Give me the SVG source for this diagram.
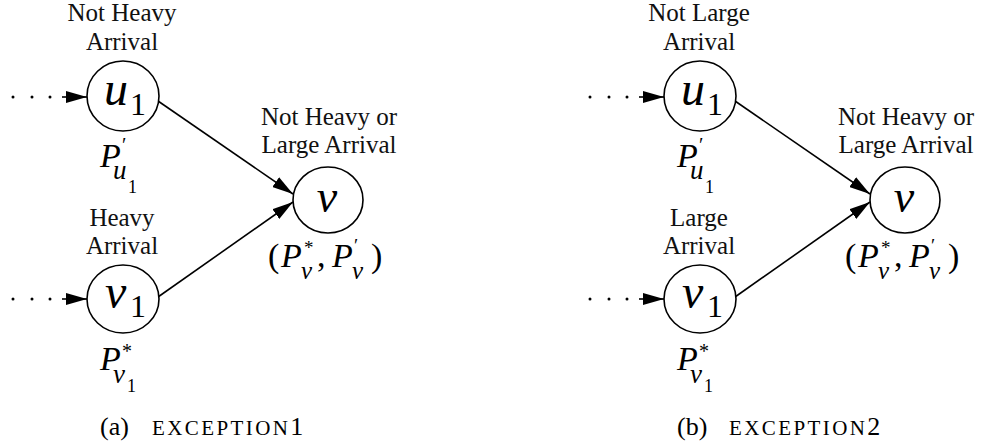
<svg xmlns="http://www.w3.org/2000/svg" width="985" height="448" viewBox="0 0 985 448">
<defs>
<marker id="ah" markerUnits="userSpaceOnUse" markerWidth="22" markerHeight="12" refX="21" refY="6" orient="auto">
<path d="M0,0 L21,6 L0,12 z" fill="#000"/>
</marker>
<style>
.nd{fill:#fff;stroke:#000;stroke-width:1.6}
.lb{font-family:'Liberation Serif','DejaVu Serif',serif;font-size:25px;fill:#111;text-anchor:middle}
.m{font-family:'Liberation Serif','DejaVu Serif',serif;font-style:italic;fill:#000}
.d{font-family:'Liberation Serif','DejaVu Serif',serif;font-style:normal;fill:#000}
.e{stroke:#000;stroke-width:1.6;fill:none}
.dot{fill:#000}
.cap{font-family:'Liberation Serif','DejaVu Serif',serif;font-size:26px;fill:#000}
</style>
</defs>
<rect width="985" height="448" fill="#fff"/>

<g id="connectors">
<g id="conn-a">
<circle class="dot" cx="13" cy="97" r="1.5"/><circle class="dot" cx="32" cy="97" r="1.5"/><circle class="dot" cx="50" cy="97" r="1.5"/>
<line class="e" x1="62" y1="97" x2="87" y2="97" marker-end="url(#ah)"/>
<circle class="dot" cx="13" cy="299" r="1.5"/><circle class="dot" cx="32" cy="299" r="1.5"/><circle class="dot" cx="50" cy="299" r="1.5"/>
<line class="e" x1="62" y1="299" x2="87" y2="299" marker-end="url(#ah)"/>
<line class="e" x1="158" y1="101" x2="293" y2="194" marker-end="url(#ah)"/>
<line class="e" x1="158" y1="297" x2="293" y2="202" marker-end="url(#ah)"/>
</g>
<g id="conn-b" transform="translate(577,0)">
<circle class="dot" cx="13" cy="97" r="1.5"/><circle class="dot" cx="32" cy="97" r="1.5"/><circle class="dot" cx="50" cy="97" r="1.5"/>
<line class="e" x1="62" y1="97" x2="87" y2="97" marker-end="url(#ah)"/>
<circle class="dot" cx="13" cy="299" r="1.5"/><circle class="dot" cx="32" cy="299" r="1.5"/><circle class="dot" cx="50" cy="299" r="1.5"/>
<line class="e" x1="62" y1="299" x2="87" y2="299" marker-end="url(#ah)"/>
<line class="e" x1="158" y1="101" x2="293" y2="194" marker-end="url(#ah)"/>
<line class="e" x1="158" y1="297" x2="293" y2="202" marker-end="url(#ah)"/>
</g>
</g>

<g id="a-u1">
<text class="lb" x="122" y="21">Not Heavy</text>
<text class="lb" x="122" y="50">Arrival</text>
<ellipse class="nd" cx="123" cy="96" rx="36" ry="35"/>
<text class="m" x="104" y="105" font-size="48">u</text>
<text class="d" x="130" y="115" font-size="32">1</text>
<text class="m" x="100" y="167" font-size="34">P</text>
<text class="d" x="122" y="152" font-size="20">′</text>
<text class="m" x="113" y="179" font-size="27">u</text>
<text class="d" x="128" y="193" font-size="18">1</text>
</g>

<g id="a-v1">
<text class="lb" x="122" y="226">Heavy</text>
<text class="lb" x="122" y="254">Arrival</text>
<ellipse class="nd" cx="123" cy="299" rx="36" ry="34"/>
<text class="m" x="105" y="308" font-size="48">v</text>
<text class="d" x="130" y="317" font-size="32">1</text>
<text class="m" x="100" y="370" font-size="34">P</text>
<text class="d" x="122" y="358" font-size="20">*</text>
<text class="m" x="113" y="383" font-size="27">v</text>
<text class="d" x="127" y="392" font-size="18">1</text>
</g>

<g id="a-v">
<text class="lb" x="329" y="125">Not Heavy or</text>
<text class="lb" x="329" y="153">Large Arrival</text>
<ellipse class="nd" cx="328" cy="200" rx="35" ry="33"/>
<text class="m" x="327" y="212" font-size="46" text-anchor="middle">v</text>
<text class="d" x="268" y="267" font-size="34">(</text>
<text class="m" x="281" y="267" font-size="34">P</text>
<text class="d" x="304" y="254" font-size="19">*</text>
<text class="m" x="301" y="279" font-size="25">v</text>
<text class="d" x="317" y="267" font-size="34">,</text>
<text class="m" x="332" y="267" font-size="34">P</text>
<text class="d" x="354" y="252" font-size="19">′</text>
<text class="m" x="352" y="279" font-size="25">v</text>
<text class="d" x="371" y="267" font-size="34">)</text>
</g>

<g id="b-u1" transform="translate(577,0)">
<text class="lb" x="122" y="21">Not Large</text>
<text class="lb" x="122" y="50">Arrival</text>
<ellipse class="nd" cx="123" cy="96" rx="36" ry="35"/>
<text class="m" x="104" y="105" font-size="48">u</text>
<text class="d" x="130" y="115" font-size="32">1</text>
<text class="m" x="100" y="167" font-size="34">P</text>
<text class="d" x="122" y="152" font-size="20">′</text>
<text class="m" x="113" y="179" font-size="27">u</text>
<text class="d" x="128" y="193" font-size="18">1</text>
</g>

<g id="b-v1" transform="translate(577,0)">
<text class="lb" x="122" y="226">Large</text>
<text class="lb" x="122" y="254">Arrival</text>
<ellipse class="nd" cx="123" cy="299" rx="36" ry="34"/>
<text class="m" x="105" y="308" font-size="48">v</text>
<text class="d" x="130" y="317" font-size="32">1</text>
<text class="m" x="100" y="370" font-size="34">P</text>
<text class="d" x="122" y="358" font-size="20">*</text>
<text class="m" x="113" y="383" font-size="27">v</text>
<text class="d" x="127" y="392" font-size="18">1</text>
</g>

<g id="b-v" transform="translate(577,0)">
<text class="lb" x="329" y="125">Not Heavy or</text>
<text class="lb" x="329" y="153">Large Arrival</text>
<ellipse class="nd" cx="328" cy="200" rx="35" ry="33"/>
<text class="m" x="327" y="212" font-size="46" text-anchor="middle">v</text>
<text class="d" x="268" y="267" font-size="34">(</text>
<text class="m" x="281" y="267" font-size="34">P</text>
<text class="d" x="304" y="254" font-size="19">*</text>
<text class="m" x="301" y="279" font-size="25">v</text>
<text class="d" x="317" y="267" font-size="34">,</text>
<text class="m" x="332" y="267" font-size="34">P</text>
<text class="d" x="354" y="252" font-size="19">′</text>
<text class="m" x="352" y="279" font-size="25">v</text>
<text class="d" x="371" y="267" font-size="34">)</text>
</g>

<g id="captions">
<text class="cap" x="100" y="435">(a) <tspan x="152" font-size="21" letter-spacing="2.4">EXCEPTION</tspan>1</text>
<text class="cap" x="677" y="435">(b) <tspan x="729" font-size="21" letter-spacing="2.4">EXCEPTION</tspan>2</text>
</g>
</svg>
